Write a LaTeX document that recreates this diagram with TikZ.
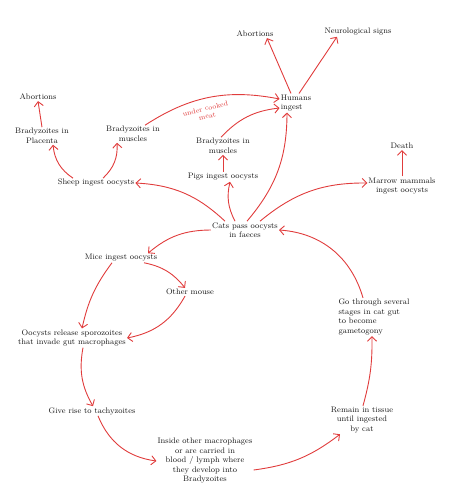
\documentclass[tikz,border=0pt]{standalone}
\usepackage{tikz}
\usetikzlibrary{arrows.meta,positioning}
\definecolor{cycleRed}{RGB}{224,60,60}
\definecolor{inkBlack}{RGB}{25,25,25}
\tikzset{
  stage note/.style={align=center,text=inkBlack,font=\footnotesize,inner sep=1pt},
  stage note left/.style={align=left,text=inkBlack,font=\footnotesize,inner sep=1pt},
  cycle arrow/.style={-{Straight Barb[length=1.6mm,width=3.2mm]},line width=0.9pt,draw=cycleRed},
  meat label/.style={text=cycleRed,font=\scriptsize,align=center,inner sep=0pt}
}
\begin{document}
\begin{tikzpicture}[x=1pt,y=1pt,on grid]
        \useasboundingbox (0,0) rectangle (451,-500);
        % centre of the cycle
        \node[stage note] (cats) at (245,-230) {Cats pass oocysts\\in faeces};
        % upper branches
        \node[stage note,above left=53pt and 22pt of cats] (pigs) {Pigs ingest oocysts};
        \node[stage note,above=31pt of pigs] (pigmuscle) {Bradyzoites in\\muscles};
        \node[stage note left,above right=43pt and 73pt of pigmuscle] (humans) {Humans\\ingest};
        \node[stage note,above left=69pt and 41pt of humans] (abortTop) {Abortions};
        \node[stage note,above right=71pt and 62pt of humans] (neuro) {Neurological signs};
        \node[stage note,above left=47pt and 149pt of cats] (sheep) {Sheep ingest oocysts};
        \node[stage note,above right=49pt and 37pt of sheep] (sheepmuscle) {Bradyzoites in\\muscles};
        \node[stage note,above left=47pt and 54pt of sheep] (placenta) {Bradyzoites in\\Placenta};
        \node[stage note,above left=39pt and 4pt of placenta] (abortLeft) {Abortions};
        \node[stage note,above right=44pt and 157pt of cats] (marrow) {Marrow mammals\\ingest oocysts};
        \node[stage note,above=40pt of marrow] (death) {Death};
        % lower cycle
        \node[stage note,below left=28pt and 124pt of cats] (mice) {Mice ingest oocysts};
        \node[stage note,below right=34pt and 69pt of mice] (othermouse) {Other mouse};
        \node[stage note,below left=80pt and 49pt of mice] (release) {Oocysts release sporozoites\\that invade gut macrophages};
        \node[stage note,below right=73pt and 20pt of release] (tachy) {Give rise to tachyzoites};
        \node[stage note,below right=50pt and 113pt of tachy] (inside) {Inside other macrophages\\or are carried in\\blood / lymph where\\they develop into\\Bradyzoites};
        \node[stage note,above right=41pt and 157pt of inside] (remain) {Remain in tissue\\until ingested\\by cat};
        \node[stage note left,above right=103pt and 12pt of remain] (gut) {Go through several\\stages in cat gut\\to become\\gametogony};

        \draw[cycle arrow] (placenta.north) -- (abortLeft.south);
        \draw[cycle arrow] ([xshift=-23pt]sheep.north) to[bend left=25] ([xshift=11pt]placenta.south);
        \draw[cycle arrow] ([xshift=7pt]sheep.north) to[bend right=25] ([xshift=-16pt]sheepmuscle.south);
        \draw[cycle arrow] ([xshift=12pt]sheepmuscle.north) to[bend left=22] node[meat label,pos=0.45,sloped,below=7pt] {under cooked\\meat} ([yshift=4pt]humans.west);
        \draw[cycle arrow] (pigs.north) -- (pigmuscle.south);
        \draw[cycle arrow] ([xshift=-2pt]pigmuscle.north) to[bend left=20] ([yshift=-5pt]humans.west);
        \draw[cycle arrow] ([xshift=-5pt]humans.north) -- ([xshift=12pt]abortTop.south);
        \draw[cycle arrow] ([xshift=3pt]humans.north) -- ([xshift=-21pt]neuro.south);
        \draw[cycle arrow] ([xshift=-20pt]cats.north) to[bend right=20] (sheep.east);
        \draw[cycle arrow] ([xshift=-10pt]cats.north) to[bend left=20] ([xshift=7pt]pigs.south);
        \draw[cycle arrow] ([xshift=2pt]cats.north) to[bend right=20] ([xshift=-9pt]humans.south);
        \draw[cycle arrow] ([xshift=15pt]cats.north) to[bend left=20] ([yshift=3pt]marrow.west);
        \draw[cycle arrow] (marrow.north) -- (death.south);
        \draw[cycle arrow] (cats.west) to[bend right=20] ([xshift=27pt]mice.north);
        \draw[cycle arrow] ([xshift=23pt]mice.south) to[bend left=20] ([xshift=-5pt]othermouse.north);
        \draw[cycle arrow] ([xshift=-9pt]mice.south) to[bend right=12] ([xshift=10pt]release.north);
        \draw[cycle arrow] ([xshift=-5pt]othermouse.south) to[bend left=25] (release.east);
        \draw[cycle arrow] ([xshift=11pt]release.south) to[bend right=20] ([xshift=1pt]tachy.north);
        \draw[cycle arrow] ([xshift=6pt]tachy.south) to[bend right=30] (inside.west);
        \draw[cycle arrow] ([yshift=-9pt]inside.east) to[bend right=15] ([xshift=-22pt]remain.south);
        \draw[cycle arrow] ([xshift=1pt]remain.north) to[bend right=8] ([xshift=-2pt]gut.south);
        \draw[cycle arrow] ([xshift=-11pt]gut.north) to[bend right=35] (cats.east);
      \end{tikzpicture}
\end{document}
